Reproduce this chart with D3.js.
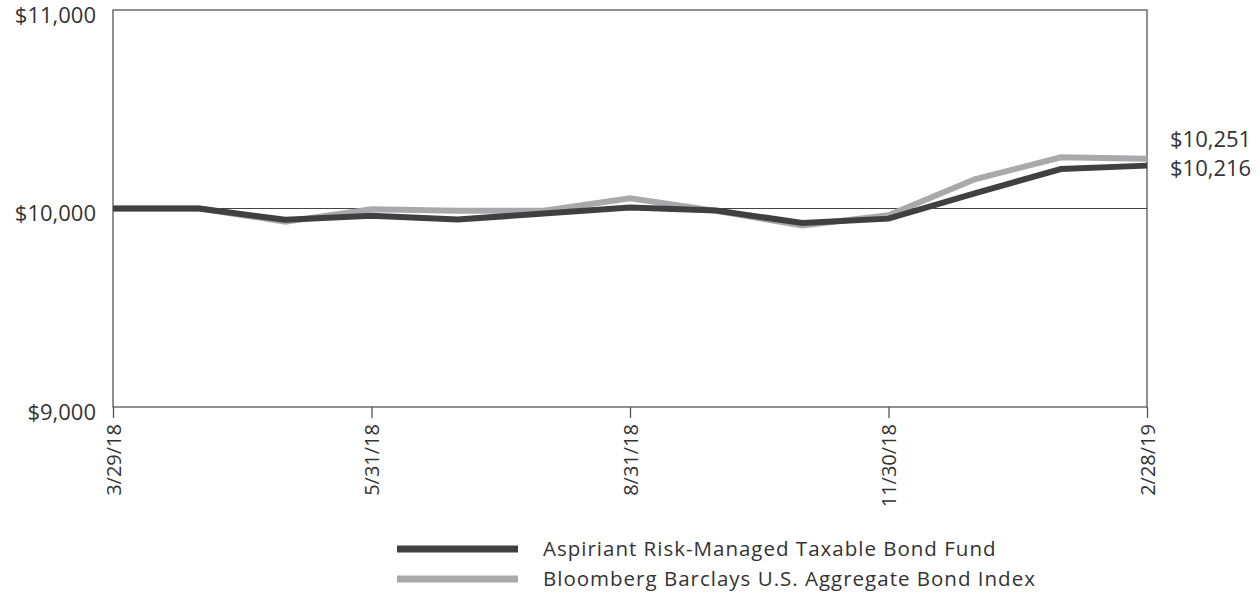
<!DOCTYPE html>
<html>
<head>
<meta charset="utf-8">
<script src="https://cdn.jsdelivr.net/npm/d3@7"></script>
<style>
  body { margin: 0; background: #fff; }
  text { font-family: "Open Sans", "Noto Sans", sans-serif; fill: #333; }
</style>
</head>
<body>
<script>
var dates = ["3/29/18","3/31/18","4/30/18","5/31/18","6/30/18","7/31/18","8/31/18","9/30/18","10/31/18","11/30/18","12/31/18","1/31/19","2/28/19"];
var fundValues = [10000, 10000, 9943, 9963, 9944, 9975, 10005, 9990, 9927, 9949, 10076, 10199, 10216];
var indexValues = [10000, 10000, 9934, 9996, 9989, 9989, 10051, 9988, 9914, 9966, 10147, 10258, 10251];
var shownDates = ["3/29/18","5/31/18","8/31/18","11/30/18","2/28/19"];
var yTicks = [9000, 10000, 11000];
var seriesNames = ["Aspiriant Risk-Managed Taxable Bond Fund", "Bloomberg Barclays U.S. Aggregate Bond Index"];

var WIDTH = 1260, HEIGHT = 595;
var LEFT = 113, TOP = 10, INNERWIDTH = 1034, INNERHEIGHT = 397;
var DARK = "#404040", LIGHT = "#a9a9ab";

var translate = function (x, y) {
  return "translate(" + x + "," + y + ")";
};

var xScale = d3.scalePoint().domain(dates).range([0, INNERWIDTH]);
var yScale = d3.scaleLinear().domain([9000, 11000]).range([INNERHEIGHT, 0]);

var money = function (d) { return "$" + d3.format(",")(d); };

var svg = d3.select("body").append("svg")
  .attr("width", WIDTH).attr("height", HEIGHT);

var g = svg.append("g").attr("transform", translate(LEFT, TOP));

// frame
g.append("rect")
  .attr("width", INNERWIDTH).attr("height", INNERHEIGHT)
  .attr("fill", "none").attr("stroke", "#555").attr("stroke-width", 1.3);

// $10,000 reference line
g.append("line")
  .attr("x1", 0).attr("x2", INNERWIDTH)
  .attr("y1", yScale(10000)).attr("y2", yScale(10000))
  .attr("stroke", "#444").attr("stroke-width", 1.2);

// y labels
g.selectAll(".ylab").data(yTicks).enter().append("text")
  .attr("x", -17).attr("y", function (d) { return yScale(d) + 5; })
  .attr("dy", "0.35em").attr("text-anchor", "end")
  .style("font-size", "22px")
  .text(money);

// x axis
var xAxis = d3.axisBottom(xScale).tickValues(shownDates).tickSize(11).tickSizeOuter(0);
var xg = g.append("g").attr("transform", translate(0, INNERHEIGHT)).call(xAxis);
xg.select(".domain").remove();
xg.selectAll(".tick line").attr("stroke", "#555").attr("stroke-width", 1.3);
xg.selectAll(".tick text")
  .attr("transform", "rotate(-90)")
  .attr("x", -17).attr("y", 0).attr("dy", "0.35em")
  .attr("text-anchor", "end")
  .style("font-size", "20px")
  .style("font-family", "'Open Sans', 'Noto Sans', sans-serif")
  .attr("fill", "#333");

var line = d3.line()
  .x(function (d, i) { return xScale(dates[i]); })
  .y(function (d) { return yScale(d); });

g.append("path").datum(indexValues)
  .attr("d", line).attr("fill", "none")
  .attr("stroke", LIGHT).attr("stroke-width", 6).attr("stroke-linejoin", "miter");

g.append("path").datum(fundValues)
  .attr("d", line).attr("fill", "none")
  .attr("stroke", DARK).attr("stroke-width", 6).attr("stroke-linejoin", "miter");

// end labels
var last = dates.length - 1;
g.append("text")
  .attr("x", INNERWIDTH + 23).attr("y", yScale(indexValues[last]) - 19)
  .attr("dy", "0.35em").style("font-size", "22px")
  .text(money(indexValues[last]));
g.append("text")
  .attr("x", INNERWIDTH + 23).attr("y", yScale(fundValues[last]) + 3)
  .attr("dy", "0.35em").style("font-size", "22px")
  .text(money(fundValues[last]));

// legend
var legend = svg.append("g").attr("transform", translate(397, 549));
var colors = [DARK, LIGHT];
seriesNames.forEach(function (name, i) {
  var row = legend.append("g").attr("transform", translate(0, i * 30));
  row.append("line").attr("x1", 0).attr("x2", 121)
    .attr("stroke", colors[i]).attr("stroke-width", 7);
  row.append("text").attr("x", 146).attr("dy", "0.35em")
    .style("font-size", "20.5px").style("letter-spacing", "1px").text(name);
});
</script>
</body>
</html>
